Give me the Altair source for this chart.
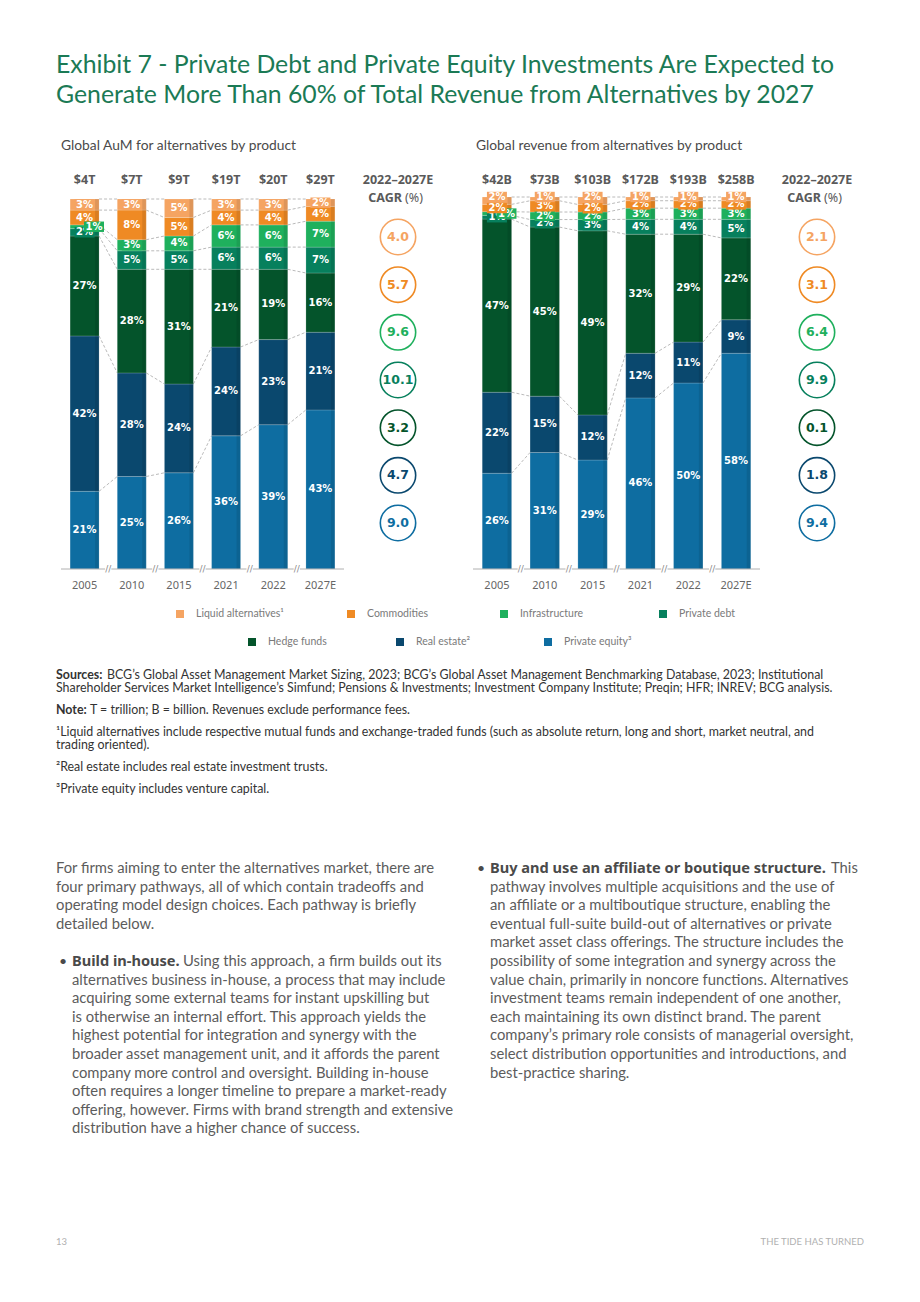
import altair as alt
import pandas as pd

# ---------------- data ----------------
YEARS = ["2005", "2010", "2015", "2021", "2022", "2027E"]
# stack order, bottom -> top
CATEGORIES = ["Private equity", "Real estate", "Hedge funds", "Private debt",
              "Infrastructure", "Commodities", "Liquid alternatives"]
COLORS = ["#0E6DA1", "#0A486E", "#04542B", "#07805D", "#1FB05D", "#EF8A24", "#F5A462"]

AUM_PE = [21, 25, 26, 36, 39, 43]
AUM_RE = [42, 28, 24, 24, 23, 21]
AUM_HF = [27, 28, 31, 21, 19, 16]
AUM_PD = [2, 5, 5, 6, 6, 7]
AUM_INF = [1, 3, 4, 6, 6, 7]
AUM_COM = [4, 8, 5, 4, 4, 4]
AUM_LIQ = [3, 3, 5, 3, 3, 2]
AUM_TOTALS = ["$4T", "$7T", "$9T", "$19T", "$20T", "$29T"]

REV_PE = [26, 31, 29, 46, 50, 58]
REV_RE = [22, 15, 12, 12, 11, 9]
REV_HF = [47, 45, 49, 32, 29, 22]
REV_PD = [1, 2, 3, 4, 4, 5]
REV_INF = [1, 2, 2, 3, 3, 3]
REV_COM = [2, 3, 2, 2, 2, 2]
REV_LIQ = [2, 1, 2, 1, 1, 1]
REV_TOTALS = ["$42B", "$73B", "$103B", "$172B", "$193B", "$258B"]

# CAGR listed top -> bottom (Liquid alternatives ... Private equity)
CAGR_AUM = [4.0, 5.7, 9.6, 10.1, 3.2, 4.7, 9.0]
CAGR_REV = [2.1, 3.1, 6.4, 9.9, 0.1, 1.8, 9.4]

LEGEND_LABELS = {"Liquid alternatives": "Liquid alternatives¹", "Commodities": "Commodities",
                 "Infrastructure": "Infrastructure", "Private debt": "Private debt",
                 "Hedge funds": "Hedge funds", "Real estate": "Real estate²",
                 "Private equity": "Private equity³"}

TITLE = ["Exhibit 7 - Private Debt and Private Equity Investments Are Expected to",
         "Generate More Than 60% of Total Revenue from Alternatives by 2027"]

# ---------------- style ----------------
M = 8  # page margin
NUM_FONT = "DejaVu Sans"
HEAD_FONT = "Noto Sans"
TXT_FONT = "Lato"
HW = 0.307  # half bar width in slot units
CS = alt.Scale(domain=CATEGORIES, range=COLORS)
BOX = "M-1,-0.52H1V0.52H-1Z"


def v(p):
    return p - M


def panel(series, totals, x_rng, y_rng, cagr, cagr_x):
    layers = []
    xs = alt.Scale(domain=[-0.5, 5.5], range=[v(x_rng[0]), v(x_rng[1])], nice=False, zero=False)
    ys = alt.Scale(domain=[0, 1], range=[v(y_rng[0]), v(y_rng[1])], nice=False)
    rows, cums = [], []
    ncat = len(CATEGORIES)
    for i, yr in enumerate(YEARS):
        vals = [series[c][i] for c in CATEGORIES]
        s = float(sum(vals))
        cum, cl = 0, [0.0]
        for k, c in enumerate(CATEGORIES):
            val = vals[k]
            y0 = cum / s
            cum += val
            y1 = cum / s
            cl.append(y1)
            shift = 0.2 if (val <= 1 and k > 0 and vals[k - 1] < 3 and k < ncat - 1) else 0.0
            ym = (y0 + y1) / 2
            if k == ncat - 1 and val <= 2 and vals[k - 1] < 4:
                ym = y1  # crowded top label sits on the bar's top edge
            rows.append(dict(year=yr, idx=i, cat=c, order=k, label=f"{val}%", y0=y0, y1=y1,
                             ym=ym, x0=i - HW, x1=i + HW, lx=i + shift,
                             small=val < 4, total=totals[i]))
        cums.append(cl)
    df = pd.DataFrame(rows)
    X = lambda f: alt.X(f, type="quantitative", scale=xs, axis=None)
    Y = lambda f: alt.Y(f, type="quantitative", scale=ys, axis=None)

    # connectors
    con = []
    for i in range(len(YEARS) - 1):
        for k in range(1, ncat + 1):
            con.append(dict(xa=i + HW, xb=i + 1 - HW, ya=cums[i][k], yb=cums[i + 1][k]))
    cdf = pd.DataFrame(con)
    layers.append(alt.Chart(cdf).mark_rule(strokeDash=[3, 2], color="#a8a8a8", strokeWidth=0.8).encode(
        x=X("xa"), x2="xb", y=Y("ya"), y2="yb"))

    # bars
    layers.append(alt.Chart(df).mark_rect(stroke="white", strokeWidth=0.5, strokeOpacity=0.35).encode(
        x=X("x0"), x2="x1", y=Y("y0"), y2="y1",
        color=alt.Color("cat:N", scale=CS, legend=None)))
    # shading stripe on the right side of each bar
    sdf = pd.DataFrame(dict(a=[i + HW - 0.085 for i in range(6)], b=[i + HW for i in range(6)],
                            lo=[0.0] * 6, hi=[1.0] * 6))
    layers.append(alt.Chart(sdf).mark_rect(color="#000000", opacity=0.09).encode(
        x=X("a"), x2="b", y=Y("lo"), y2="hi"))

    # labels, drawn bottom category first so upper labels stay on top
    for k in range(ncat):
        sub = df[df.order == k]
        small = sub[sub.small]
        if len(small):
            layers.append(alt.Chart(small).mark_point(shape=BOX, filled=True, opacity=1, size=400).encode(
                x=X("lx"), y=Y("ym"), color=alt.Color("cat:N", scale=CS, legend=None)))
        layers.append(alt.Chart(sub).mark_text(font=NUM_FONT, fontWeight="bold", fontSize=10,
                                               color="white", baseline="middle").encode(
            x=X("lx"), y=Y("ym"), text="label:N"))

    ydf = df[df.order == 0]
    # totals
    layers.append(alt.Chart(ydf).mark_text(font=HEAD_FONT, fontWeight="bold", fontSize=12.5,
                                           color="#5a5a5a", baseline="middle").encode(
        x=X("idx"), y=alt.value(v(180)), text="total:N"))
    # axis line
    adf = pd.DataFrame(dict(a=[-0.5], b=[5.5], z=[0.0]))
    layers.append(alt.Chart(adf).mark_rule(color="#b0b0b0", strokeWidth=1).encode(
        x=X("a"), x2="b", y=Y("z")))
    # axis breaks
    bdf = pd.DataFrame(dict(bx=[i + 0.5 for i in range(5)], z=[0.0] * 5))
    layers.append(alt.Chart(bdf).mark_point(shape="square", filled=True, color="white", opacity=1, size=40).encode(
        x=X("bx"), y=Y("z")))
    layers.append(alt.Chart(bdf).mark_text(text="//", font=NUM_FONT, fontSize=9, color="#8a8a8a",
                                           baseline="middle").encode(x=X("bx"), y=Y("z")))
    # year labels
    layers.append(alt.Chart(ydf).mark_text(font="Noto Sans", fontSize=11, color="#666666",
                                           baseline="middle").encode(
        x=X("idx"), y=alt.value(v(586)), text="year:N"))

    # CAGR column
    topdown = list(reversed(CATEGORIES))
    gdf = pd.DataFrame(dict(cat=topdown, g=[f"{c:.1f}" for c in cagr]))
    gy = alt.Y("cat:N", scale=alt.Scale(type="point", domain=topdown, range=[v(237), v(523)], padding=0),
               axis=None)
    layers.append(alt.Chart(gdf).mark_point(shape="circle", filled=False, size=1250, strokeWidth=1.6,
                                            opacity=1).encode(
        x=alt.value(v(cagr_x)), y=gy, color=alt.Color("cat:N", scale=CS, legend=None)))
    layers.append(alt.Chart(gdf).mark_text(font=NUM_FONT, fontWeight="bold", fontSize=12.5,
                                           baseline="middle").encode(
        x=alt.value(v(cagr_x)), y=gy, text="g:N", color=alt.Color("cat:N", scale=CS, legend=None)))
    layers.append(alt.Chart(pd.DataFrame({"t": ["2022–2027E"]})).mark_text(
        font=HEAD_FONT, fontWeight="bold", fontSize=12.5, color="#5a5a5a", baseline="middle").encode(
        x=alt.value(v(cagr_x)), y=alt.value(v(180)), text="t:N"))
    layers.append(alt.Chart(pd.DataFrame({"t": ["CAGR"]})).mark_text(
        font=HEAD_FONT, fontWeight="bold", fontSize=12.5, color="#5a5a5a", baseline="middle", align="right").encode(
        x=alt.value(v(cagr_x + 4)), y=alt.value(v(198)), text="t:N"))
    layers.append(alt.Chart(pd.DataFrame({"t": ["(%)"]})).mark_text(
        font=HEAD_FONT, fontSize=12.5, color="#5a5a5a", baseline="middle", align="left").encode(
        x=alt.value(v(cagr_x + 7)), y=alt.value(v(198)), text="t:N"))
    return layers


def text_lines(lines, x, y_first, lh, **mk):
    df = pd.DataFrame({"t": lines, "i": list(range(len(lines)))})
    style = dict(align="left", baseline="middle")
    style.update(mk)
    return alt.Chart(df).mark_text(**style).encode(
        x=alt.value(v(x)),
        y=alt.Y("i:Q", scale=alt.Scale(domain=[0, 1], range=[v(y_first), v(y_first + lh)]), axis=None),
        text="t:N")


aum = dict(zip(CATEGORIES, [AUM_PE, AUM_RE, AUM_HF, AUM_PD, AUM_INF, AUM_COM, AUM_LIQ]))
rev = dict(zip(CATEGORIES, [REV_PE, REV_RE, REV_HF, REV_PD, REV_INF, REV_COM, REV_LIQ]))

layers = []
# title
layers.append(text_lines(TITLE, 56, 66, 30, font=TXT_FONT, fontSize=24.8, color="#1B7A55"))
# panel subtitles
layers.append(text_lines(["Global AuM for alternatives by product"], 61, 146, 18, font=TXT_FONT,
                         fontSize=13.8, color="#4a4a4a"))
layers.append(text_lines(["Global revenue from alternatives by product"], 476, 146, 18, font=TXT_FONT,
                         fontSize=13.8, color="#4a4a4a"))

layers += panel(aum, AUM_TOTALS, (61, 344), (569, 199), CAGR_AUM, 398)
layers += panel(rev, REV_TOTALS, (473, 760), (569, 197), CAGR_REV, 817)

# legend
LEG_POS = {"Liquid alternatives": (180, 614), "Commodities": (351, 614), "Infrastructure": (504, 614),
           "Private debt": (663, 614), "Hedge funds": (252, 642), "Real estate": (400, 642),
           "Private equity": (548, 642)}
for c in reversed(CATEGORIES):
    px, py = LEG_POS[c]
    ldf = pd.DataFrame({"cat": [c], "t": [LEGEND_LABELS[c]]})
    layers.append(alt.Chart(ldf).mark_square(size=64, opacity=1).encode(
        x=alt.value(v(px)), y=alt.value(v(py)), color=alt.Color("cat:N", scale=CS, legend=None)))
    layers.append(alt.Chart(ldf).mark_text(font=TXT_FONT, fontSize=10.5, color="#7a7a7a", align="left",
                                           baseline="middle").encode(
        x=alt.value(v(px + 16)), y=alt.value(v(py)), text="t:N"))

# footnotes
FN = dict(font=TXT_FONT, fontSize=12.4, color="#333333")
layers.append(text_lines(["Sources:"], 56, 675, 13, fontWeight="bold", **FN))
layers.append(text_lines([
    "BCG’s Global Asset Management Market Sizing, 2023; BCG’s Global Asset Management Benchmarking Database, 2023; Institutional"],
    107, 675, 13, **FN))
layers.append(text_lines([
    "Shareholder Services Market Intelligence’s Simfund; Pensions & Investments; Investment Company Institute; Preqin; HFR; INREV; BCG analysis."],
    56, 688, 13, **FN))
layers.append(text_lines(["Note:"], 56, 710, 13, fontWeight="bold", **FN))
layers.append(text_lines(["T = trillion; B = billion. Revenues exclude performance fees."], 90, 710, 13, **FN))
layers.append(text_lines([
    "¹Liquid alternatives include respective mutual funds and exchange-traded funds (such as absolute return, long and short, market neutral, and",
    "trading oriented)."], 56, 732, 13, **FN))
layers.append(text_lines(["²Real estate includes real estate investment trusts."], 56, 767, 13, **FN))
layers.append(text_lines(["³Private equity includes venture capital."], 56, 789, 13, **FN))

# body text
BODY = dict(font=TXT_FONT, fontSize=14.8, color="#5c5c5c")
BOLD = dict(font=HEAD_FONT, fontSize=14.6, color="#4a4a4a", fontWeight="bold")
BUL = dict(font=TXT_FONT, fontSize=14, color="#4a4a4a")
LH = 18.6
layers.append(text_lines([
    "For firms aiming to enter the alternatives market, there are",
    "four primary pathways, all of which contain tradeoffs and",
    "operating model design choices. Each pathway is briefly",
    "detailed below."], 56, 869, LH, **BODY))
layers.append(text_lines(["•"], 59, 962, LH, **BUL))
layers.append(text_lines(["Build in-house."], 72, 962, LH, **BOLD))
layers.append(text_lines(["Using this approach, a firm builds out its"], 183, 962, LH, **BODY))
layers.append(text_lines([
    "alternatives business in-house, a process that may include",
    "acquiring some external teams for instant upskilling but",
    "is otherwise an internal effort. This approach yields the",
    "highest potential for integration and synergy with the",
    "broader asset management unit, and it affords the parent",
    "company more control and oversight. Building in-house",
    "often requires a longer timeline to prepare a market-ready",
    "offering, however. Firms with brand strength and extensive",
    "distribution have a higher chance of success."], 72, 962 + LH, LH, **BODY))
layers.append(text_lines(["•"], 477, 869, LH, **BUL))
layers.append(text_lines(["Buy and use an affiliate or boutique structure."], 490, 869, LH, **BOLD))
layers.append(text_lines(["This"], 831, 869, LH, **BODY))
layers.append(text_lines([
    "pathway involves multiple acquisitions and the use of",
    "an affiliate or a multiboutique structure, enabling the",
    "eventual full-suite build-out of alternatives or private",
    "market asset class offerings. The structure includes the",
    "possibility of some integration and synergy across the",
    "value chain, primarily in noncore functions. Alternatives",
    "investment teams remain independent of one another,",
    "each maintaining its own distinct brand. The parent",
    "company’s primary role consists of managerial oversight,",
    "select distribution opportunities and introductions, and",
    "best-practice sharing."], 490, 869 + LH, LH, **BODY))

# footer
layers.append(text_lines(["13"], 56, 1242, 12, font=TXT_FONT, fontSize=9.5, color="#b0b0b0"))
layers.append(text_lines(["THE TIDE HAS TURNED"], 864, 1242, 12, font=TXT_FONT, fontSize=9.5,
                         color="#b0b0b0", align="right"))

chart = alt.layer(*layers).resolve_scale(
    x="independent", y="independent", color="independent"
).properties(
    width=904, height=1286, autosize=alt.AutoSizeParams(type="none"), padding=0, background="white"
).configure_view(stroke=None)

chart.save("out.html", embed_options={"renderer": "svg", "actions": False})
